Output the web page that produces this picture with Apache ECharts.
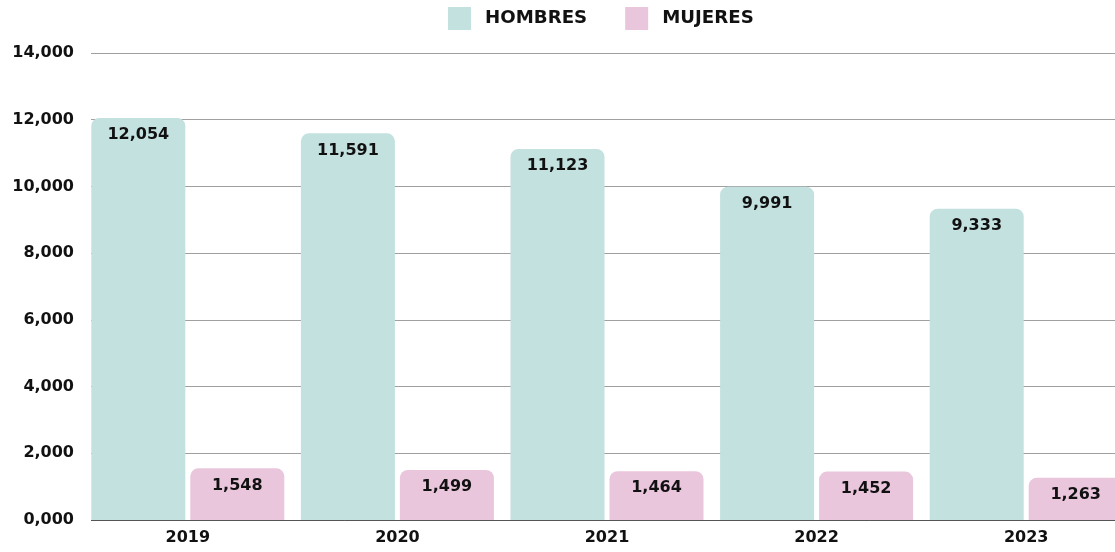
<!DOCTYPE html>
<html>
<head>
<meta charset="utf-8">
<script src="https://cdn.jsdelivr.net/npm/echarts@6/dist/echarts.min.js"></script>
<style>
  html, body { margin: 0; padding: 0; background: #fff; overflow: hidden; }
  /* the reference is cropped on the right, so the chart runs past the window */
  #chart { width: 1131px; height: 552px; }
</style>
</head>
<body>
<div id="chart"></div>
<script>
const years = ['2019', '2020', '2021', '2022', '2023']
const hombres = [12054, 11591, 11123, 9991, 9333]
const mujeres = [1548, 1499, 1464, 1452, 1263]

const FONT = 'DejaVu Sans'
const fmt = (v) => (v === 0 ? '0,000' : v.toLocaleString('en-US'))

const chart = echarts.init(document.getElementById('chart'))

const labelStyle = {
  show: true,
  position: 'insideTop',
  distance: 9,
  color: '#111',
  fontFamily: FONT,
  fontWeight: 'bold',
  fontSize: 16,
  formatter: (p) => fmt(p.value)
}

chart.setOption({
  animation: false,
  legend: {
    top: 2,
    left: 443,
    icon: 'rect',
    itemWidth: 23,
    itemHeight: 23,
    itemGap: 38,
    textStyle: { fontFamily: FONT, fontWeight: 'bold', fontSize: 18.2, color: '#111', padding: [0, 0, 0, 9] },
    data: ['HOMBRES', 'MUJERES']
  },
  grid: { left: 83, top: 53, right: 0, bottom: 32, containLabel: false },
  // gridlines in the reference begin where the first bar begins
  graphic: [{
    type: 'rect',
    left: 82,
    top: 45,
    shape: { width: 9, height: 478 },
    style: { fill: '#fff' },
    z: 5
  }],
  xAxis: {
    type: 'category',
    data: years,
    axisTick: { show: false },
    axisLine: { lineStyle: { color: '#555', width: 1 } },
    axisLabel: { color: '#111', fontFamily: FONT, fontWeight: 'bold', fontSize: 16, margin: 10 }
  },
  yAxis: {
    type: 'value',
    min: 0,
    max: 14000,
    interval: 2000,
    axisLine: { show: false },
    axisTick: { show: false },
    splitLine: { lineStyle: { color: '#a0a0a0', width: 1 } },
    axisLabel: { color: '#111', fontFamily: FONT, fontWeight: 'bold', fontSize: 16, margin: 9, formatter: fmt }
  },
  series: [
    {
      name: 'HOMBRES',
      type: 'bar',
      data: hombres,
      barWidth: 94,
      barGap: '5.3%',
      itemStyle: { color: '#c2e1df', borderRadius: [8, 8, 0, 0] },
      label: labelStyle
    },
    {
      name: 'MUJERES',
      type: 'bar',
      data: mujeres,
      barWidth: 94,
      itemStyle: { color: '#e9c6dc', borderRadius: [8, 8, 0, 0] },
      label: labelStyle
    }
  ]
})
</script>
</body>
</html>
